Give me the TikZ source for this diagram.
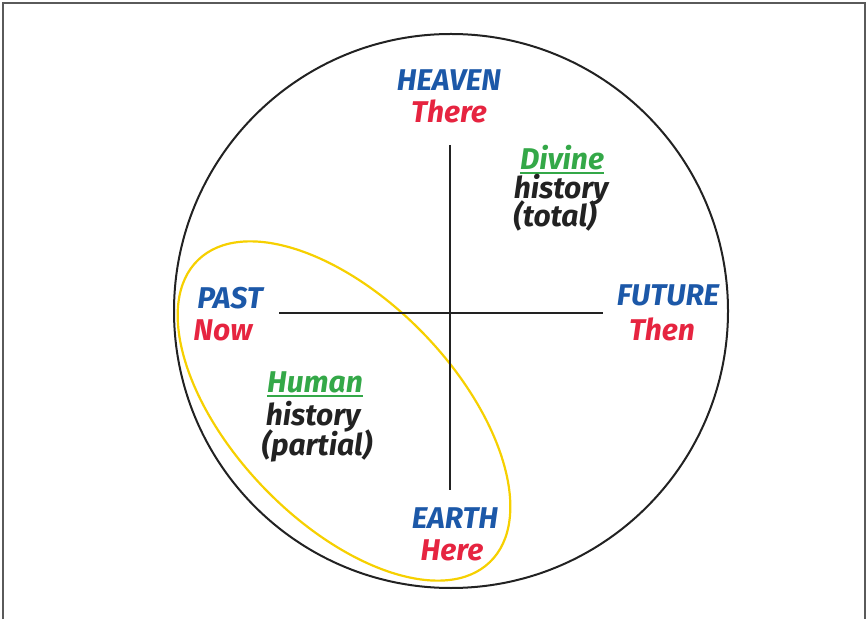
\documentclass[tikz,border=0pt]{standalone}
\usepackage{fontspec}
\setmainfont{Fira Sans}
\definecolor{cblue}{RGB}{28,88,168}
\definecolor{cred}{RGB}{230,36,64}
\definecolor{cgreen}{RGB}{52,168,72}
\definecolor{cblack}{RGB}{34,34,34}
\definecolor{cyellow}{RGB}{246,208,0}
\definecolor{cframe}{RGB}{90,90,90}
\begin{document}
\begin{tikzpicture}[x=1pt,y=1pt,
  lbl/.style={font=\fontsize{30}{33}\selectfont\bfseries\itshape, anchor=base, inner sep=0pt},
  place/.style={lbl, text=cblue},
  deixis/.style={lbl, text=cred},
  kind/.style={lbl, text=cgreen},
  desc/.style={lbl, text=cblack},
  axis/.style={draw=cblack, line width=2pt},
  uline/.style={draw=cgreen, line width=2pt}]
\useasboundingbox (0,0) rectangle (867,619);
\draw[cframe, line width=1.8pt] (3,0) -- (3,616) -- (865,616) -- (865,0);
% circle
\draw[cblack, line width=2pt] (451,308) circle [radius=277];
% yellow ellipse
\draw[cyellow, line width=2.2pt, rotate around={-46:(344,208)}] (344,208) ellipse [x radius=210, y radius=111];
% axes
\coordinate (vt) at (450,474);
\coordinate (vb) at (450,129);
\coordinate (hl) at (279,306);
\coordinate (hr) at (603,306);
\draw[axis] (vt) -- (vb);
\draw[axis] (hl) -- (hr);
% labels
\node[place] (heaven) at (449,528) {HEAVEN};
\node[deixis] (there) at (449,496) {There};
\node[kind] (divine) at (562,449) {Divine};
\draw[uline] ([yshift=-3pt]divine.base west) -- ([yshift=-3pt]divine.base east);
\node[desc] (hist1) at (561,420) {history};
\node[desc] (total) at (555,392) {(total)};
\node[place] (past) at (230,310) {PAST};
\node[deixis] (now) at (223,278) {Now};
\node[place] (future) at (668,313) {FUTURE};
\node[deixis] (then) at (662,278) {Then};
\node[kind] (human) at (315,226) {Human};
\draw[uline] ([yshift=-3pt]human.base west) -- ([yshift=-3pt]human.base east);
\node[desc] (hist2) at (313,194) {history};
\node[desc] (partial) at (317,164) {(partial)};
\node[place] (earth) at (455,91) {EARTH};
\node[deixis] (here) at (452,59) {Here};
\end{tikzpicture}
\end{document}
